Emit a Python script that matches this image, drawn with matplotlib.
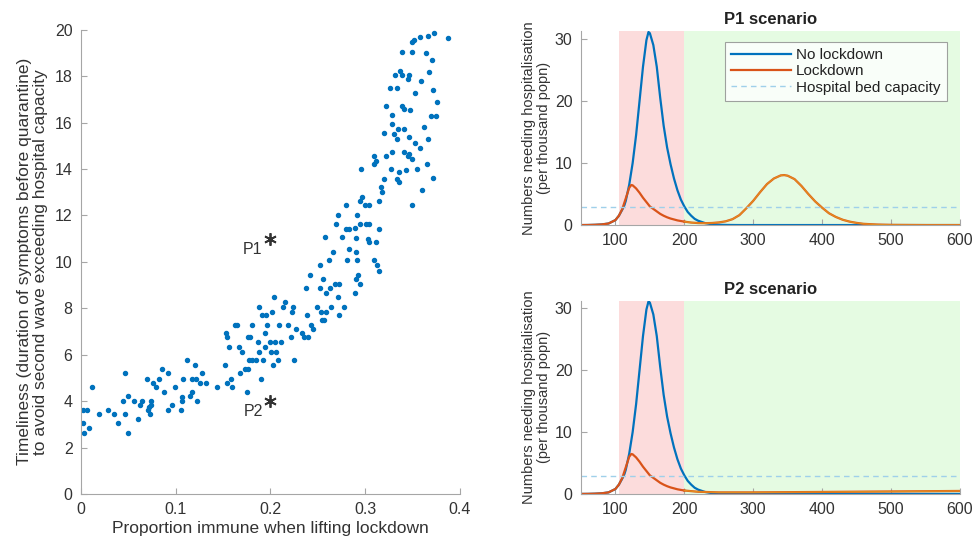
import numpy as np
import matplotlib
matplotlib.use("Agg")
import matplotlib.pyplot as plt

plt.rcParams['font.family'] = ['Liberation Sans', 'DejaVu Sans']

# ---------------------------------------------------------------------------
# DATA
# ---------------------------------------------------------------------------

# scatter: (proportion immune, timeliness) pairs
scatter_pts = [
    (0.002, 3.61), (0.006, 3.61), (0.002, 3.04), (0.003, 2.64), (0.009, 2.83),
    (0.012, 4.59), (0.019, 3.43), (0.029, 3.61), (0.035, 3.43), (0.039, 3.04),
    (0.044, 4.00), (0.047, 5.19), (0.047, 3.43), (0.050, 4.21), (0.050, 2.64),
    (0.056, 4.00), (0.060, 3.21), (0.062, 3.83), (0.065, 4.00), (0.070, 4.97),
    (0.071, 3.61), (0.072, 3.76), (0.073, 3.43), (0.074, 4.00), (0.074, 3.83),
    (0.076, 4.80), (0.079, 4.59), (0.083, 4.97), (0.086, 5.37), (0.088, 4.40),
    (0.092, 5.19), (0.092, 3.61), (0.096, 3.83), (0.099, 4.59), (0.106, 3.61),
    (0.107, 4.19), (0.107, 4.01), (0.108, 4.97), (0.112, 5.76), (0.115, 4.21),
    (0.117, 4.40), (0.117, 4.97), (0.120, 5.54), (0.122, 4.97), (0.123, 4.01),
    (0.126, 4.80), (0.128, 5.19), (0.132, 4.80), (0.144, 4.59), (0.152, 5.54),
    (0.153, 6.93), (0.154, 6.76), (0.154, 4.80), (0.156, 6.33), (0.158, 4.97),
    (0.160, 4.59), (0.163, 7.30), (0.165, 7.30), (0.167, 6.33), (0.168, 5.19),
    (0.170, 6.11), (0.173, 5.37), (0.175, 4.40), (0.176, 5.37), (0.176, 6.76),
    (0.179, 6.76), (0.178, 5.76), (0.181, 5.76), (0.181, 7.30), (0.185, 5.76),
    (0.187, 6.54), (0.188, 8.07), (0.188, 6.11), (0.190, 4.97), (0.192, 5.76),
    (0.191, 7.69), (0.194, 6.93), (0.194, 6.33), (0.196, 7.69), (0.197, 7.30),
    (0.200, 6.54), (0.201, 6.11), (0.202, 7.84), (0.204, 8.50), (0.203, 5.54),
    (0.205, 6.54), (0.206, 6.11), (0.208, 5.76), (0.209, 7.30), (0.211, 6.54),
    (0.213, 8.07), (0.216, 8.26), (0.219, 7.30), (0.222, 6.76), (0.223, 7.84),
    (0.224, 8.07), (0.225, 5.76), (0.227, 7.11), (0.233, 6.93), (0.236, 6.76),
    (0.238, 8.87), (0.239, 7.69), (0.240, 6.76), (0.242, 9.44), (0.243, 7.30),
    (0.245, 7.11), (0.249, 8.07), (0.252, 8.87), (0.254, 7.84), (0.256, 9.26),
    (0.255, 7.50), (0.257, 7.50), (0.259, 8.64), (0.259, 7.84), (0.263, 8.87),
    (0.264, 8.07), (0.268, 9.04), (0.271, 8.47), (0.273, 7.69), (0.273, 9.04),
    (0.278, 8.07), (0.289, 8.64), (0.291, 9.26), (0.293, 9.44), (0.295, 9.04),
    (0.315, 9.60),
    (0.352, 19.57), (0.350, 19.46), (0.339, 19.03), (0.350, 19.03), (0.332, 18.07),
    (0.337, 18.24), (0.339, 18.07), (0.345, 17.86), (0.346, 18.03), (0.326, 17.50),
    (0.334, 17.50), (0.353, 17.29), (0.322, 16.71), (0.329, 16.31), (0.339, 16.71),
    (0.341, 16.57), (0.348, 16.53), (0.329, 15.93), (0.335, 15.74), (0.341, 15.74),
    (0.320, 15.53), (0.331, 15.50), (0.334, 15.31), (0.346, 15.36), (0.353, 15.14),
    (0.322, 14.57), (0.329, 14.74), (0.310, 14.57), (0.309, 14.21), (0.312, 14.36),
    (0.341, 14.74), (0.346, 14.64), (0.345, 14.57), (0.350, 14.43), (0.296, 14.00),
    (0.327, 14.00), (0.336, 13.86), (0.343, 13.96), (0.355, 14.00), (0.334, 13.57),
    (0.336, 13.43), (0.320, 13.57), (0.317, 13.21), (0.318, 13.00), (0.297, 12.79),
    (0.295, 12.64), (0.300, 12.43), (0.304, 12.43), (0.315, 12.64), (0.350, 12.43),
    (0.280, 12.43), (0.271, 12.03), (0.292, 12.03), (0.269, 11.64), (0.280, 11.43),
    (0.283, 11.43), (0.289, 11.46), (0.295, 11.64), (0.301, 11.64), (0.304, 11.64),
    (0.315, 11.43), (0.258, 11.07), (0.276, 11.07), (0.290, 11.03), (0.303, 11.00),
    (0.283, 10.57), (0.290, 10.43), (0.304, 10.86), (0.312, 10.86), (0.266, 10.43),
    (0.262, 10.07), (0.281, 10.07), (0.292, 10.07), (0.310, 10.07), (0.313, 9.86),
    (0.253, 9.86),
    (0.358, 19.70), (0.366, 19.75), (0.373, 19.85), (0.388, 19.65), (0.364, 19.00),
    (0.371, 18.70), (0.368, 18.20), (0.359, 17.80), (0.372, 17.40), (0.376, 16.90),
    (0.370, 16.30), (0.375, 16.30), (0.362, 15.80), (0.367, 15.30), (0.358, 14.90),
    (0.365, 14.20), (0.372, 13.60), (0.360, 13.10),
]
scatter_x = [p[0] for p in scatter_pts]
scatter_y = [p[1] for p in scatter_pts]

# highlighted parameter sets
point_names = ["P1", "P2"]
point_x = [0.2, 0.2]
point_y = [11.0, 4.0]

# hospitalisation curves (days, per thousand popn)
days_blue = [50, 60, 70, 80, 90, 100, 105, 110, 113, 115, 120, 125, 130, 135, 140,
             145, 148, 150, 155, 160, 165, 170, 175, 180, 185, 190, 195, 200, 205,
             210, 215, 220, 230, 240, 250, 260, 280, 600]
no_lockdown = [0.0, 0.01, 0.04, 0.1, 0.25, 0.8, 1.5, 2.5, 3.2, 3.9, 6.5, 10.0, 14.5,
               20.0, 25.5, 29.8, 31.1, 30.9, 29.0, 25.5, 20.5, 16.0, 12.5, 9.8, 7.5,
               5.6, 4.1, 3.0, 2.1, 1.5, 1.0, 0.7, 0.32, 0.13, 0.05, 0.02, 0.0, 0.0]

days_lock = [50, 60, 70, 80, 90, 100, 105, 110, 115, 120, 123, 125, 130, 135, 140,
             145, 150, 155, 160, 165, 170, 175, 180, 190, 200]
lockdown_first = [0.0, 0.01, 0.04, 0.1, 0.25, 0.8, 1.5, 2.6, 4.3, 6.0, 6.45, 6.4,
                  5.9, 5.2, 4.4, 3.7, 3.0, 2.6, 2.2, 1.8, 1.5, 1.25, 1.05, 0.75, 0.55]

days_after_p1 = [200, 210, 220, 230, 240, 250, 260, 270, 280, 290, 300, 310, 320,
                 330, 340, 345, 350, 360, 370, 380, 390, 400, 410, 420, 430, 440,
                 450, 460, 480, 500, 550, 600]
lockdown_after_p1 = [0.55, 0.4, 0.32, 0.3, 0.33, 0.42, 0.6, 0.95, 1.6, 2.7, 3.9,
                     5.3, 6.6, 7.5, 8.0, 8.05, 7.95, 7.4, 6.3, 5.0, 3.8, 2.8, 1.9,
                     1.3, 0.85, 0.55, 0.35, 0.2, 0.08, 0.03, 0.0, 0.0]

days_after_p2 = [200, 220, 250, 300, 400, 500, 600]
lockdown_after_p2 = [0.55, 0.35, 0.25, 0.25, 0.32, 0.4, 0.48]

bed_capacity = 2.9
lockdown_start, lockdown_end = 105, 200

# ---------------------------------------------------------------------------
# STYLE
# ---------------------------------------------------------------------------

BLUE = "#0072BD"
ORANGE = "#D95319"
YELLOW = "#EDB120"
AXIS_GREY = "#a6a6a6"
TEXT_GREY = "#333333"


def style_axes(ax):
    for side in ("top", "right"):
        ax.spines[side].set_visible(False)
    for side in ("left", "bottom"):
        ax.spines[side].set_color(AXIS_GREY)
        ax.spines[side].set_linewidth(0.8)
    ax.tick_params(direction="in", colors=AXIS_GREY, labelcolor=TEXT_GREY,
                   labelsize=11.5, length=4, pad=6)


fig = plt.figure(figsize=(9.74, 5.41), dpi=100)

# ---------------------------------------------------------------------------
# LEFT — SCATTER
# ---------------------------------------------------------------------------

ax = fig.add_axes([0.083, 0.087, 0.389, 0.858])
ax.plot(scatter_x, scatter_y, ".", color=BLUE, markersize=5.8)
ax.plot(point_x, point_y, linestyle="none", marker=(6, 2, 0), markersize=9,
        color="#333333", markeredgewidth=1.3)
for name, px, py in zip(point_names, point_x, point_y):
    ax.text(px - 0.008, py - 0.45, name, ha="right", va="center",
            fontsize=11.5, color=TEXT_GREY)
ax.set_xlim(0, 0.4)
ax.set_ylim(0, 20)
ax.set_xticks([0, 0.1, 0.2, 0.3, 0.4])
ax.set_xticklabels(["0", "0.1", "0.2", "0.3", "0.4"])
ax.set_yticks(np.arange(0, 21, 2))
style_axes(ax)
ax.set_xlabel("Proportion immune when lifting lockdown", fontsize=12.5,
              color=TEXT_GREY, labelpad=3)
ax.set_ylabel("Timeliness (duration of symptoms before quarantine)\n"
              "to avoid second wave exceeding hospital capacity",
              fontsize=12.5, color=TEXT_GREY, labelpad=5, linespacing=1.05)

# ---------------------------------------------------------------------------
# RIGHT — SCENARIO TIME SERIES
# ---------------------------------------------------------------------------

scenarios = [
    ("P1 scenario", [0.5965, 0.584, 0.389, 0.358], days_after_p1, lockdown_after_p1),
    ("P2 scenario", [0.5965, 0.087, 0.389, 0.357], days_after_p2, lockdown_after_p2),
]

for i, (title, rect, d_after, v_after) in enumerate(scenarios):
    axr = fig.add_axes(rect)
    axr.axvspan(lockdown_start, lockdown_end, color="#fcdcdc", lw=0)
    axr.axvspan(lockdown_end, 600, color="#e5fbe2", lw=0)
    axr.plot(days_blue, no_lockdown, color=BLUE, lw=1.6, label="No lockdown")
    axr.plot(days_lock, lockdown_first, color=ORANGE, lw=1.6, label="Lockdown")
    axr.plot(d_after, v_after, color=ORANGE, lw=1.6)
    axr.plot(d_after, v_after, color=YELLOW, lw=1.0, alpha=0.6)
    axr.axhline(bed_capacity, color="#9fd0ea", lw=1.0, ls=(0, (4, 3)),
                label="Hospital bed capacity")
    axr.set_xlim(50, 600)
    axr.set_ylim(0, 31.2)
    axr.set_xticks([100, 200, 300, 400, 500, 600])
    axr.set_yticks([0, 10, 20, 30])
    style_axes(axr)
    axr.set_title(title, fontsize=12, fontweight="bold", color="#222222", pad=5)
    axr.set_ylabel("Numbers needing hospitalisation\n(per thousand popn)",
                   fontsize=10.5, color=TEXT_GREY, labelpad=3, linespacing=1.05)
    if i == 0:
        leg = axr.legend(loc="upper right", fontsize=11, frameon=True,
                         fancybox=False, borderpad=0.4, labelspacing=0.15,
                         handlelength=3.9, handletextpad=0.35,
                         bbox_to_anchor=(0.985, 0.985))
        leg.get_frame().set_edgecolor("#8a8a8a")
        leg.get_frame().set_linewidth(0.8)
        for t in leg.get_texts():
            t.set_color("#222222")

fig.savefig("out.png", dpi=100)
